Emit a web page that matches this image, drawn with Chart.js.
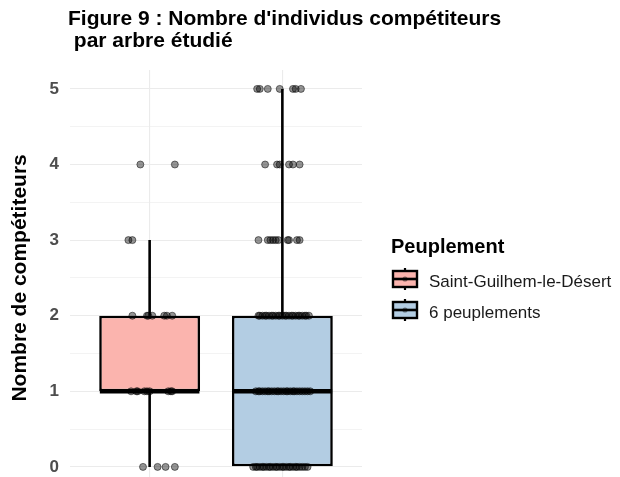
<!DOCTYPE html>
<html>
<head>
<meta charset="utf-8">
<script src="https://cdn.jsdelivr.net/npm/chart.js@4.4.1/dist/chart.umd.min.js"></script>
<style>
  html, body { margin: 0; padding: 0; background: #fff; overflow: hidden; }
  #wrap { width: 620px; height: 507px; }
</style>
</head>
<body>
<div id="wrap"><canvas id="c" width="620" height="507"></canvas></div>
<script>
// ---------- DATA ----------
const categories = ['Saint-Guilhem-le-Désert', '6 peuplements'];
const boxQ1 = [1, 0];
const boxMedian = [1, 1];
const boxQ3 = [2, 2];
const whiskerLow = [0, 0];
const whiskerHigh = [3, 5];
const yTickValues = [0, 1, 2, 3, 4, 5];

// Jittered individual observations (value, horizontal jitter in category units)
const sgValues = [4, 4, 3, 3, 2, 2, 2, 2, 2, 2, 2, 1, 1, 1, 1, 1, 1, 1, 1, 1, 0, 0, 0, 0];
const sgJitter = [-0.07, 0.19, -0.16, -0.13, -0.13, -0.02, -0.01, 0.02, 0.11, 0.13, 0.17,
  -0.14, -0.10, -0.09, -0.04, -0.02, 0.00, 0.14, 0.16, 0.17, -0.05, 0.06, 0.12, 0.19];

const p6Values = [
  5, 5, 5, 5, 5, 5, 5,
  4, 4, 4, 4, 4, 4,
  3, 3, 3, 3, 3, 3, 3, 3, 3, 3,
  2, 2, 2, 2, 2, 2, 2, 2, 2, 2, 2, 2, 2, 2, 2, 2, 2, 2, 2, 2, 2, 2, 2, 2,
  1, 1, 1, 1, 1, 1, 1, 1, 1, 1, 1, 1, 1, 1, 1, 1, 1, 1, 1, 1, 1, 1, 1, 1,
  0, 0, 0, 0, 0, 0, 0, 0, 0, 0, 0, 0, 0, 0, 0, 0, 0, 0, 0, 0, 0, 0, 0, 0, 0
];
const p6Jitter = [
  -0.19, -0.17, -0.11, -0.02, 0.08, 0.10, 0.14,
  -0.13, -0.04, -0.02, 0.05, 0.08, 0.13,
  -0.18, -0.11, -0.09, -0.07, -0.05, -0.03, 0.04, 0.05, 0.11, 0.13,
  -0.18, -0.17, -0.15, -0.13, -0.12, -0.10, -0.08, -0.07, -0.05, -0.03, -0.02, 0.00,
  0.02, 0.03, 0.05, 0.07, 0.08, 0.10, 0.12, 0.13, 0.15, 0.17, 0.18, 0.20,
  -0.20, -0.18, -0.17, -0.15, -0.13, -0.11, -0.10, -0.08, -0.06, -0.04, -0.03, -0.01,
  0.01, 0.03, 0.04, 0.06, 0.08, 0.09, 0.11, 0.13, 0.15, 0.17, 0.19, 0.21,
  -0.22, -0.20, -0.19, -0.17, -0.15, -0.14, -0.12, -0.10, -0.09, -0.07, -0.05, -0.04,
  -0.02, 0.00, 0.01, 0.03, 0.05, 0.06, 0.08, 0.10, 0.11, 0.13, 0.15, 0.17, 0.19
];

// ---------- STYLE ----------
const boxFills = ['#FBB4AE', '#B3CDE3'];
const BOX_HALF = 0.375;
const FONT = "'Liberation Sans', Arial, sans-serif";

// ---------- BUILD DATASETS ----------
const datasets = [];

function pointsDataset(values, jitter, catIndex) {
  return {
    type: 'scatter',
    data: values.map((v, i) => ({ x: catIndex + 1 + jitter[i], y: v })),
    pointRadius: 3.5,
    pointBackgroundColor: 'rgba(0,0,0,0.42)',
    pointBorderColor: 'rgba(0,0,0,0.5)',
    pointBorderWidth: 1,
    order: 0
  };
}
datasets.push(pointsDataset(sgValues, sgJitter, 0));
datasets.push(pointsDataset(p6Values, p6Jitter, 1));

categories.forEach((c, i) => {
  datasets.push({
    type: 'line',
    data: [{ x: i + 1 - BOX_HALF, y: boxMedian[i] }, { x: i + 1 + BOX_HALF, y: boxMedian[i] }],
    borderColor: '#000',
    borderWidth: 4.5,
    pointRadius: 0,
    borderCapStyle: 'butt',
    order: 1
  });
});

categories.forEach((c, i) => {
  [[whiskerLow[i], boxQ1[i]], [boxQ3[i], whiskerHigh[i]]].forEach(seg => {
    if (seg[0] === seg[1]) return;
    datasets.push({
      type: 'line',
      data: [{ x: i + 1, y: seg[0] }, { x: i + 1, y: seg[1] }],
      borderColor: '#000',
      borderWidth: 2.6,
      pointRadius: 0,
      borderCapStyle: 'butt',
      order: 2
    });
  });
});

datasets.push({
  type: 'bar',
  data: categories.map((c, i) => ({ x: i + 1, y: [boxQ1[i], boxQ3[i]] })),
  backgroundColor: boxFills,
  borderColor: '#000',
  borderWidth: 2.6,
  borderSkipped: false,
  categoryPercentage: 1,
  barPercentage: 0.76,
  order: 3
});

// ---------- TITLE + LEGEND PLUGIN ----------
const decorations = {
  id: 'decorations',
  afterDraw(chart) {
    const ctx = chart.ctx;
    ctx.save();
    ctx.fillStyle = '#000';
    ctx.textAlign = 'left';
    ctx.textBaseline = 'alphabetic';
    ctx.font = 'bold 21px ' + FONT;
    ctx.fillText("Figure 9 : Nombre d'individus compétiteurs", 68, 25);
    ctx.fillText(' par arbre étudié', 68, 47);

    ctx.font = 'bold 20px ' + FONT;
    ctx.fillText('Peuplement', 391, 253);

    const centers = [279, 310];
    categories.forEach((label, i) => {
      const cy = centers[i];
      const x0 = 393, x1 = 417, cx = (x0 + x1) / 2;
      ctx.strokeStyle = '#000';
      ctx.lineWidth = 2.2;
      ctx.beginPath();
      ctx.moveTo(cx, cy - 11); ctx.lineTo(cx, cy - 8);
      ctx.moveTo(cx, cy + 8); ctx.lineTo(cx, cy + 11);
      ctx.stroke();
      ctx.fillStyle = boxFills[i];
      ctx.fillRect(x0, cy - 8, x1 - x0, 16);
      ctx.lineWidth = 2.4;
      ctx.strokeRect(x0, cy - 8, x1 - x0, 16);
      ctx.lineWidth = 2.6;
      ctx.beginPath();
      ctx.moveTo(x0, cy); ctx.lineTo(x1, cy);
      ctx.stroke();
      ctx.fillStyle = 'rgba(0,0,0,0.45)';
      ctx.beginPath();
      ctx.arc(cx, cy, 2.6, 0, Math.PI * 2);
      ctx.fill();
      ctx.fillStyle = '#1A1A1A';
      ctx.font = '17px ' + FONT;
      ctx.fillText(label, 429, cy + 8);
    });
    ctx.restore();
  }
};

// ---------- CHART ----------
new Chart(document.getElementById('c'), {
  type: 'bar',
  data: { datasets },
  plugins: [decorations],
  options: {
    responsive: false,
    animation: false,
    events: [],
    layout: { padding: { top: 70, right: 258, bottom: 15, left: 0 } },
    plugins: { legend: { display: false }, title: { display: false }, tooltip: { enabled: false } },
    scales: {
      x: {
        type: 'linear',
        min: 0.4,
        max: 2.6,
        offset: false,
        afterBuildTicks: s => { s.ticks = categories.map((c, i) => ({ value: i + 1 })); },
        afterFit: s => { s.height = 0; },
        ticks: { display: false },
        grid: { color: '#EBEBEB', lineWidth: 1.1, drawTicks: false, offset: false },
        border: { display: false }
      },
      y: {
        type: 'linear',
        min: -0.25,
        max: 5.25,
        afterBuildTicks: s => {
          const t = [];
          yTickValues.forEach((v, i) => {
            t.push({ value: v });
            if (i < yTickValues.length - 1) t.push({ value: (v + yTickValues[i + 1]) / 2 });
          });
          s.ticks = t;
        },
        afterFit: s => { s.width = 70; },
        ticks: {
          padding: 11,
          color: '#4D4D4D',
          font: { family: FONT, size: 17, weight: 'bold' },
          callback: v => (yTickValues.includes(v) ? String(v) : '')
        },
        grid: {
          color: '#EBEBEB',
          drawTicks: false,
          lineWidth: ctx => (ctx.tick && yTickValues.includes(ctx.tick.value) ? 1.1 : 0.6)
        },
        border: { display: false },
        title: {
          display: true,
          text: 'Nombre de compétiteurs',
          color: '#000',
          font: { family: FONT, size: 21, weight: 'bold' },
          padding: { top: 8, bottom: 0 }
        }
      }
    }
  }
});
</script>
</body>
</html>
